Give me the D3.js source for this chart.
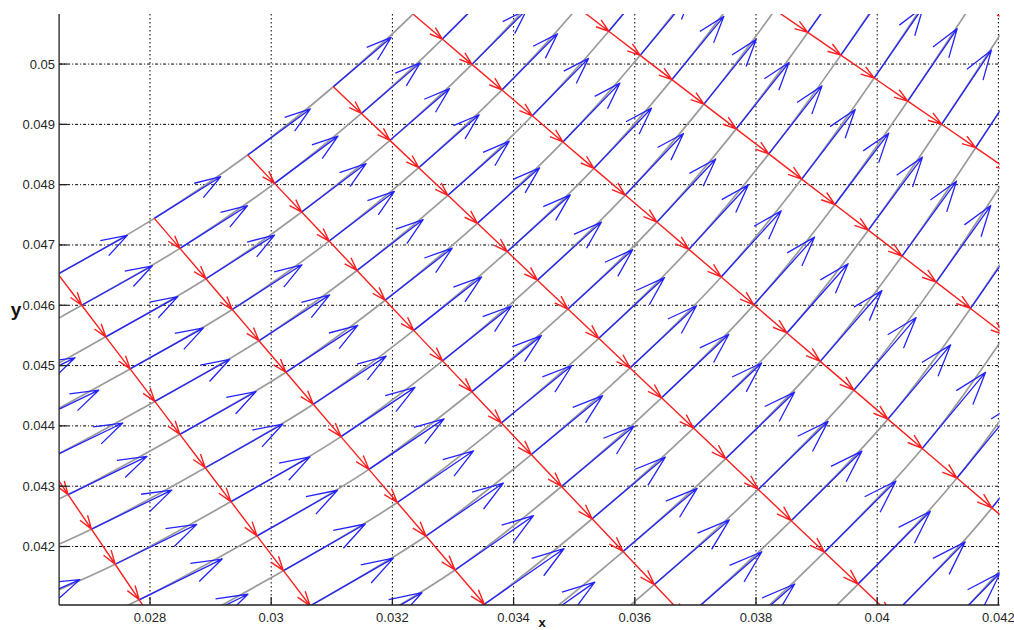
<!DOCTYPE html>
<html><head><meta charset="utf-8">
<script src="https://cdn.jsdelivr.net/npm/d3@7/dist/d3.min.js"></script>
<style>
body{margin:0;background:#fff}
svg{display:block}
text{font-family:"Liberation Sans",Arial,Helvetica,sans-serif}
</style>
</head><body>
<svg id="chart" width="1014" height="630"></svg>
<script>
// ---------- axis data ----------
const xDomain = [0.0265, 0.04202];
const yDomain = [0.04103, 0.05083];
const xTicks = [0.028, 0.030, 0.032, 0.034, 0.036, 0.038, 0.040, 0.042];
const xTickLabels = ["0.028", "0.03", "0.032", "0.034", "0.036", "0.038", "0.04", "0.042"];
const yTicks = [0.042, 0.043, 0.044, 0.045, 0.046, 0.047, 0.048, 0.049, 0.050];
const yTickLabels = ["0.042", "0.043", "0.044", "0.045", "0.046", "0.047", "0.048", "0.049", "0.05"];

// ---------- grid data (red coordinate lines) ----------
// start node of every red line (on the top-left boundary curve), data units
const lineStartX = [0.023064, 0.024802, 0.026482, 0.028071, 0.029612, 0.031025, 0.032340, 0.033545, 0.034637, 0.035614];
const lineStartY = [0.044886, 0.045609, 0.046518, 0.047441, 0.048491, 0.049624, 0.050829, 0.052104, 0.053434, 0.054810];
// direction of every red line, degrees below the horizontal
const lineAngle = [59.0, 56.1, 52.9, 49.6, 46.7, 43.6, 40.6, 37.6, 34.6, 31.6];
// first node spacing along each red line and its growth per node, data units
const lineStep = [0.000643, 0.000643, 0.000648, 0.000653, 0.000645, 0.000641, 0.000637, 0.000630, 0.000623, 0.000620];
const lineStepGrowth = [0.0000096, 0.0000096, 0.0000093, 0.0000086, 0.0000083, 0.0000078, 0.0000073, 0.0000061, 0.0000050, 0.0000045];
const nodesPerLine = 23;         // gray curves k = 0 .. 22
const blueLengthFactor = 0.7;    // blue arrow length relative to node spacing

// ---------- layout ----------
const plot = {left: 59.1, right: 999.6, top: 14, bottom: 605};
const svg = d3.select("#chart");
const x = d3.scaleLinear().domain(xDomain).range([plot.left, plot.right]);
const y = d3.scaleLinear().domain(yDomain).range([plot.bottom, plot.top]);

svg.append("defs").append("clipPath").attr("id", "clip")
  .append("rect").attr("x", plot.left).attr("y", plot.top)
  .attr("width", plot.right - plot.left).attr("height", plot.bottom - plot.top);

// grid
const grid = svg.append("g");
grid.selectAll("line.vx").data(xTicks).join("line")
  .attr("x1", d => x(d)).attr("x2", d => x(d))
  .attr("y1", plot.top).attr("y2", plot.bottom)
  .attr("stroke", "#000").attr("stroke-width", 1).attr("stroke-dasharray", "1.5,2.5");
grid.selectAll("line.hy").data(yTicks).join("line")
  .attr("y1", d => y(d)).attr("y2", d => y(d))
  .attr("x1", plot.left).attr("x2", plot.right)
  .attr("stroke", "#000").attr("stroke-width", 1).attr("stroke-dasharray", "3,2,1,2");

// ---------- nodes ----------
const nodes = lineStartX.map((x0, i) => {
  const a = lineAngle[i] * Math.PI / 180;
  const pts = [];
  let dist = 0;
  for (let k = 0; k < nodesPerLine; k++) {
    pts.push([x0 + dist * Math.cos(a), lineStartY[i] - dist * Math.sin(a)]);
    dist += lineStep[i] + lineStepGrowth[i] * k;
  }
  return pts;
});
const px = p => [x(p[0]), y(p[1])];

const data = svg.append("g").attr("clip-path", "url(#clip)");

// gray curves
const lineGen = d3.line().curve(d3.curveCatmullRom.alpha(0.5));
const grayCurves = d3.range(nodesPerLine).map(k => nodes.map(line => px(line[k])));
data.append("g").selectAll("path").data(grayCurves).join("path")
  .attr("d", lineGen).attr("fill", "none")
  .attr("stroke", "#9b9b9b").attr("stroke-width", 1.7);

// arrows
function arrowPath(t, h) {
  const u = h[0] - t[0], v = h[1] - t[1];
  const al = 0.33, be = 0.33;
  const b1 = [h[0] - al * (u + be * v), h[1] - al * (v - be * u)];
  const b2 = [h[0] - al * (u - be * v), h[1] - al * (v + be * u)];
  return `M${t[0]},${t[1]}L${h[0]},${h[1]}M${b1[0]},${b1[1]}L${h[0]},${h[1]}L${b2[0]},${b2[1]}`;
}

const blueArrows = [];
nodes.forEach((line, i) => {
  line.forEach((p, k) => {
    const prev = nodes[Math.max(0, i - 1)][k];
    const next = nodes[Math.min(nodes.length - 1, i + 1)][k];
    const span = (i > 0 && i < nodes.length - 1) ? 2 : 1;
    const vx = blueLengthFactor * (next[0] - prev[0]) / span;
    const vy = blueLengthFactor * (next[1] - prev[1]) / span;
    blueArrows.push(arrowPath(px(p), px([p[0] + vx, p[1] + vy])));
  });
});
data.append("g").selectAll("path").data(blueArrows).join("path")
  .attr("d", d => d).attr("fill", "none")
  .attr("stroke", "#2323ff").attr("stroke-width", 1.3).attr("stroke-linejoin", "round");

const redArrows = [];
nodes.forEach(line => {
  for (let k = 0; k < line.length - 1; k++) redArrows.push(arrowPath(px(line[k]), px(line[k + 1])));
});
data.append("g").selectAll("path").data(redArrows).join("path")
  .attr("d", d => d).attr("fill", "none")
  .attr("stroke", "#ff1f1f").attr("stroke-width", 1.4).attr("stroke-linejoin", "round");

// ---------- axes ----------
const ax = svg.append("g");
ax.append("line").attr("x1", plot.left).attr("x2", plot.left).attr("y1", plot.top).attr("y2", plot.bottom)
  .attr("stroke", "#222").attr("stroke-width", 1.3);
ax.append("line").attr("x1", plot.left).attr("x2", plot.right).attr("y1", plot.bottom).attr("y2", plot.bottom)
  .attr("stroke", "#222").attr("stroke-width", 1.3);
ax.selectAll("line.xt").data(xTicks).join("line")
  .attr("x1", d => x(d)).attr("x2", d => x(d)).attr("y1", plot.bottom).attr("y2", plot.bottom - 8)
  .attr("stroke", "#222").attr("stroke-width", 1.3);
ax.selectAll("line.yt").data(yTicks).join("line")
  .attr("y1", d => y(d)).attr("y2", d => y(d)).attr("x1", plot.left).attr("x2", plot.left + 8)
  .attr("stroke", "#222").attr("stroke-width", 1.3);
ax.selectAll("text.xl").data(xTicks).join("text")
  .attr("x", d => x(d)).attr("y", 622).attr("text-anchor", "middle")
  .attr("font-size", 13).attr("fill", "#262626").text((d, i) => xTickLabels[i]);
ax.selectAll("text.yl").data(yTicks).join("text")
  .attr("x", 55).attr("y", d => y(d) + 4.5).attr("text-anchor", "end")
  .attr("font-size", 13).attr("fill", "#262626").text((d, i) => yTickLabels[i]);
ax.append("text").attr("x", 542).attr("y", 626.5).attr("text-anchor", "middle")
  .attr("font-size", 13).attr("font-weight", "bold").attr("fill", "#111").text("x");
ax.append("text").attr("x", 16).attr("y", 316).attr("text-anchor", "middle")
  .attr("font-size", 19).attr("font-weight", "bold").attr("fill", "#111").text("y");
</script>
</body></html>
